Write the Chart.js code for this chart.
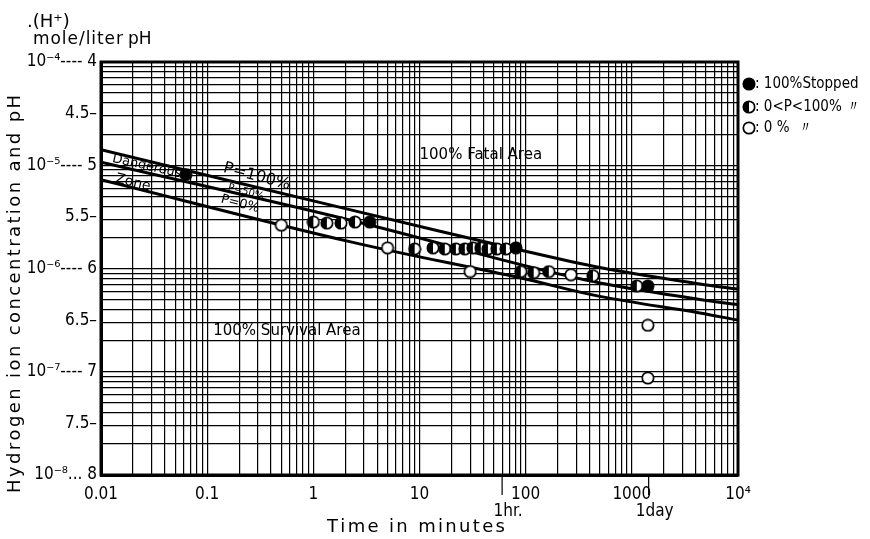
<!DOCTYPE html>
<html><head><meta charset="utf-8">
<script src="https://cdn.jsdelivr.net/npm/chart.js@4.4.0/dist/chart.umd.min.js"></script>
<style>html,body{margin:0;padding:0;background:#fff;}#wrap{position:relative;width:870px;height:539px;}</style>
</head><body><div id="wrap"><canvas id="c"></canvas></div>
<script>
// ---- axis ticks ----
const xTickValues = [0.01, 0.1, 1, 10, 100, 1000, 10000];
const xTickLabels = ['0.01', '0.1', '1', '10', '100', '1000', '10⁴'];
const xSpecialValues = [60, 1440];
const xSpecialLabels = ['1hr.', '1day'];
const yTickValues = [4, 4.5, 5, 5.5, 6, 6.5, 7, 7.5, 8];
const yTickLabels = ['10⁻⁴---- 4', '4.5–', '10⁻⁵---- 5', '5.5–', '10⁻⁶---- 6', '6.5–', '10⁻⁷---- 7', '7.5–', '10⁻⁸... 8'];

// ---- boundary curves (time in minutes, pH) ----
const curveTime = [0.01, 2.2, 88, 500, 4365, 10000];
const curveP100 = [4.85, 5.43, 5.82, 5.99, 6.15, 6.20];
const curveP50  = [4.97, 5.53, 5.96, 6.14, 6.30, 6.35];
const curveP0   = [5.14, 5.74, 6.09, 6.27, 6.43, 6.50];

// ---- observations ----
const stoppedTime = [0.063, 3.4, 81, 1416];
const stoppedPH   = [5.09, 5.55, 5.80, 6.17];
const partialTime = [1, 1.34, 1.82, 2.47, 9, 13.4, 17.3, 22, 26.7, 31.8, 37.8, 44.1, 53.5, 65.1, 90, 119, 165, 430, 1114];
const partialPH   = [5.55, 5.56, 5.56, 5.55, 5.81, 5.80, 5.81, 5.81, 5.81, 5.80, 5.80, 5.81, 5.81, 5.81, 6.03, 6.04, 6.03, 6.07, 6.17];
const zeroTime    = [0.5, 5, 30, 267, 1416, 1416];
const zeroPH      = [5.58, 5.80, 6.03, 6.06, 6.55, 7.06];

const NARROW = "'Liberation Sans Narrow','DejaVu Sans Condensed','Liberation Sans',Arial,sans-serif";
const SANS = "'DejaVu Sans','Liberation Sans',sans-serif";

function pts(xs, ys){ return xs.map((x,i)=>({x:x, y:ys[i]})); }
function near(a,b){ return Math.abs(a-b) <= 1e-6*Math.max(Math.abs(a),Math.abs(b)); }

function makeMarker(kind){
  const r = 5.7, s = 14;
  const c = document.createElement('canvas'); c.width = s; c.height = s;
  const g = c.getContext('2d');
  g.beginPath(); g.arc(s/2, s/2, r, 0, Math.PI*2);
  g.fillStyle = kind==='full' ? '#000' : '#fff'; g.fill();
  if (kind==='half'){
    g.beginPath(); g.moveTo(s/2, s/2 - r); g.arc(s/2, s/2, r, -Math.PI/2, Math.PI/2, true); g.closePath();
    g.fillStyle = '#000'; g.fill();
  }
  g.beginPath(); g.arc(s/2, s/2, r, 0, Math.PI*2);
  g.lineWidth = 1.7; g.strokeStyle = '#000'; g.stroke();
  return c;
}
const mFull = makeMarker('full'), mHalf = makeMarker('half'), mOpen = makeMarker('open');

function spacedText(ctx, text, x, y, target){
  const chars = [...text];
  const ws = chars.map(ch => ctx.measureText(ch).width);
  const nat = ws.reduce((a,b)=>a+b,0);
  const extra = chars.length>1 ? (target-nat)/(chars.length-1) : 0;
  let cx = x;
  chars.forEach((ch,i)=>{ ctx.fillText(ch, cx, y); cx += ws[i] + extra; });
}

const decor = {
  id: 'decor',
  afterDraw(chart){
    const ctx = chart.ctx, a = chart.chartArea, xs = chart.scales.x, ys = chart.scales.y;
    ctx.save();
    ctx.strokeStyle = '#000'; ctx.lineWidth = 3;
    ctx.strokeRect(a.left, a.top, a.right-a.left, a.bottom-a.top);
    ctx.fillStyle = '#000';
    ctx.lineWidth = 1.2;
    ctx.font = '17px ' + NARROW; ctx.textAlign = 'center'; ctx.textBaseline = 'middle';
    xSpecialValues.forEach((v,i)=>{
      const px = xs.getPixelForValue(v);
      ctx.beginPath(); ctx.moveTo(px, a.bottom); ctx.lineTo(px, a.bottom+20); ctx.stroke();
      ctx.fillText(xSpecialLabels[i], px+6, 512);
    });
    ctx.font = '18px ' + SANS; ctx.textAlign = 'left';
    spacedText(ctx, 'Time in minutes', 327, 527, 178);
    ctx.save();
    ctx.translate(15, 493); ctx.rotate(-Math.PI/2);
    ctx.font = '18px ' + SANS;
    spacedText(ctx, 'Hydrogen ion concentration and pH', 0, 0, 398);
    ctx.restore();
    ctx.font = '18px ' + SANS;
    ctx.fillText('.(H⁺)', 27, 22);
    ctx.font = '17px ' + SANS;
    spacedText(ctx, 'mole/liter', 33, 40, 90);
    ctx.fillText('pH', 128, 40);
    ctx.font = '15px ' + SANS;
    ctx.fillText('100% Fatal Area', xs.getPixelForValue(10), ys.getPixelForValue(4.90));
    ctx.fillText('100% Survival Area', xs.getPixelForValue(0.114), ys.getPixelForValue(6.61));
    const rot = (txt, t, ph, size, ang) => {
      ctx.save();
      ctx.translate(xs.getPixelForValue(t), ys.getPixelForValue(ph));
      ctx.rotate(ang*Math.PI/180);
      ctx.font = size + 'px ' + SANS; ctx.textAlign = 'center';
      ctx.fillText(txt, 0, 0);
      ctx.restore();
    };
    rot('Dangerous', 0.027, 5.01, 13, 13);
    rot('Zone', 0.02, 5.17, 14, 14);
    rot('P=100%', 0.294, 5.11, 16, 15);
    rot('P=50%', 0.232, 5.26, 10, 15);
    rot('P=0%', 0.204, 5.375, 13, 15);
    const leg = [[mFull, ': 100%Stopped', 84], [mHalf, ': 0<P<100% 〃', 107], [mOpen, ': 0 %  〃', 128]];
    ctx.font = '15px ' + NARROW; ctx.textAlign = 'left';
    leg.forEach(([m, t, y])=>{
      ctx.drawImage(m, 749 - 7, y - 7);
      ctx.fillText(t, 755, y);
    });
    ctx.restore();
  }
};

const logTicks = [];
for (let n=-2; n<=3; n++) for (let k=1; k<=9; k++) logTicks.push(k*Math.pow(10,n));
logTicks.push(10000);
const phGrid = [4];
for (let d=4; d<=7; d++) for (let k=1; k<=9; k++) phGrid.push((d+1) - Math.log10(k));

Chart.defaults.font.family = NARROW;
Chart.defaults.color = '#000';

const lineStyle = { borderColor:'#000', borderWidth:3, pointRadius:0, tension:0.35, order:5 };

new Chart(document.getElementById('c'), {
  type: 'scatter',
  data: {
    datasets: [
      { label:'100% Stopped', data: pts(stoppedTime, stoppedPH), pointStyle: mFull, order: 0 },
      { label:'0<P<100%', data: pts(partialTime, partialPH), pointStyle: mHalf, order: 1 },
      { label:'0%', data: pts(zeroTime, zeroPH), pointStyle: mOpen, order: 2 },
      Object.assign({ type:'line', label:'P=100%', data: pts(curveTime, curveP100) }, lineStyle),
      Object.assign({ type:'line', label:'P=50%', data: pts(curveTime, curveP50) }, lineStyle),
      Object.assign({ type:'line', label:'P=0%', data: pts(curveTime, curveP0) }, lineStyle)
    ]
  },
  options: {
    responsive: true, maintainAspectRatio: false, animation: false,
    layout: { padding: { top: 62, right: 132, bottom: 0, left: 0 } },
    plugins: { legend: { display: false }, tooltip: { enabled: false } },
    scales: {
      x: {
        type: 'logarithmic', min: 0.01, max: 10000,
        afterBuildTicks(s){ s.ticks = logTicks.map(v=>({value:v})); },
        afterFit(s){ s.height = 64; },
        grid: { color:'#000', lineWidth: 1.2, drawTicks: false },
        border: { display: true, color:'#000', width: 3 },
        ticks: {
          autoSkip: false, maxRotation: 0, padding: 9, font: { size: 17 },
          callback(v){ const i = xTickValues.findIndex(t=>near(t,v)); return i>=0 ? xTickLabels[i] : ''; }
        }
      },
      y: {
        type: 'linear', min: 4, max: 8, reverse: true,
        afterBuildTicks(s){
          const all = phGrid.concat(yTickValues.filter(v => !phGrid.some(g=>near(g,v))));
          s.ticks = all.sort((a,b)=>a-b).map(v=>({value:v}));
        },
        afterFit(s){ s.width = 101; },
        grid: {
          lineWidth: 1.2, drawTicks: false,
          color(c){ const v = c.tick && c.tick.value; return phGrid.some(g=>near(g,v)) ? '#000' : 'rgba(0,0,0,0)'; }
        },
        border: { display: true, color:'#000', width: 3 },
        ticks: {
          autoSkip: false, padding: 4, font: { size: 17 },
          callback(v){ const i = yTickValues.findIndex(t=>near(t,v)); return i>=0 ? yTickLabels[i] : ''; }
        }
      }
    }
  },
  plugins: [decor]
});
</script></body></html>
